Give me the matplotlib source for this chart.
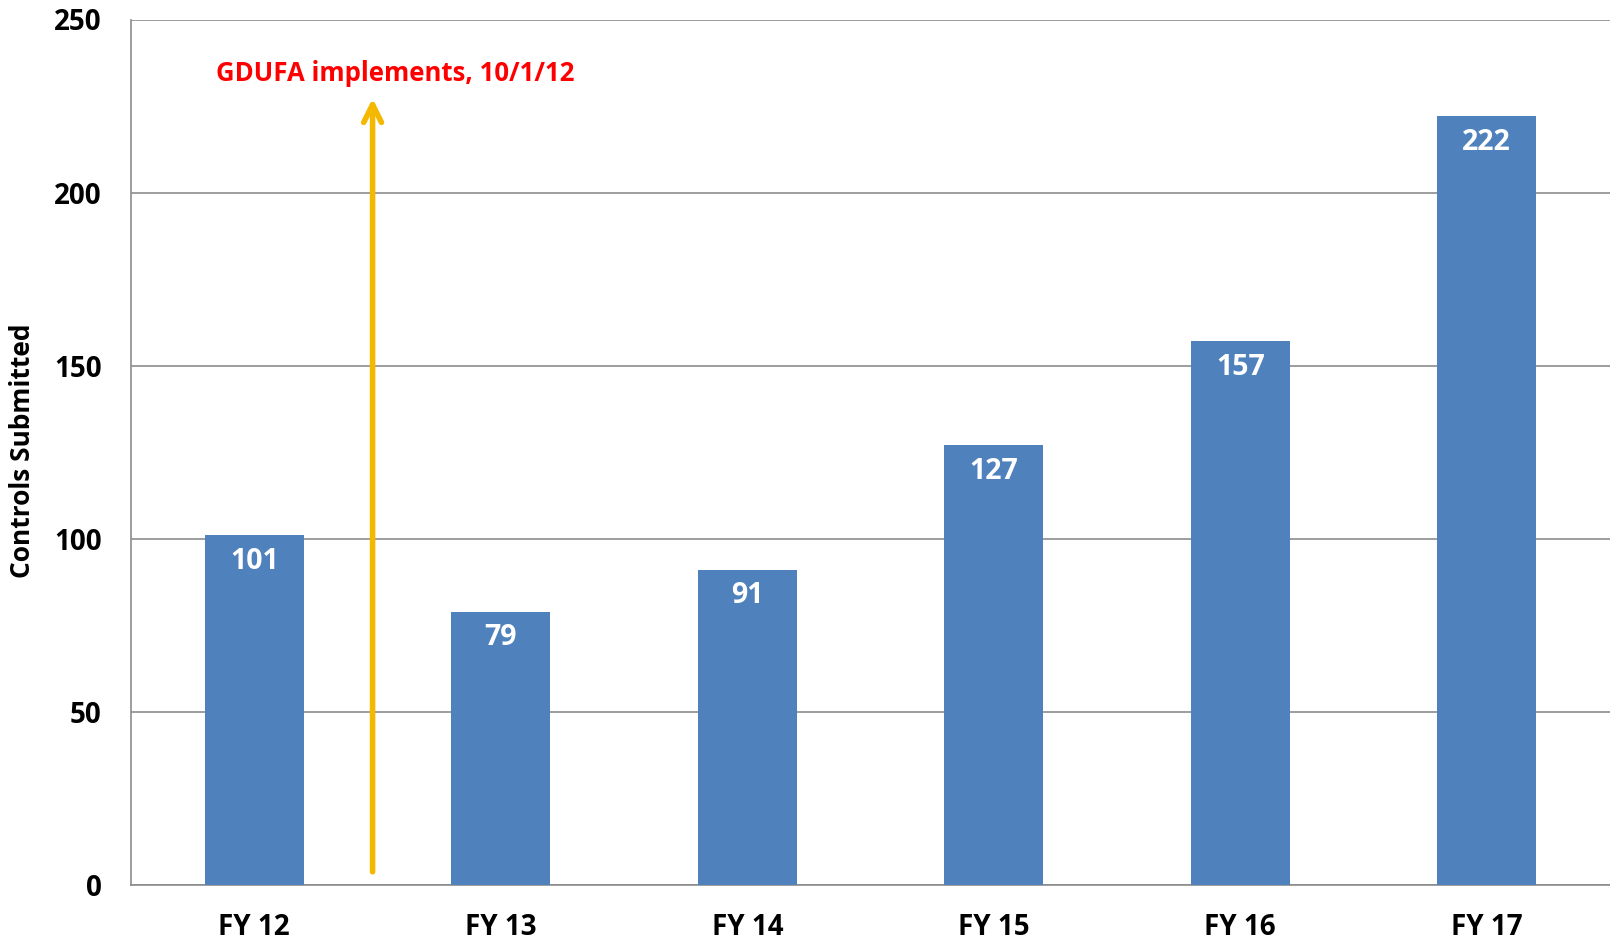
import numpy as np
import matplotlib.pyplot as plt

# data
years = ["FY 12", "FY 13", "FY 14", "FY 15", "FY 16", "FY 17"]
controls = [101, 79, 91, 127, 157, 222]
yticks = [0, 50, 100, 150, 200, 250]

plt.rcParams['font.family'] = ['Open Sans', 'DejaVu Sans']

fig = plt.figure(figsize=(16.1, 9.39), dpi=100)
ax = fig.add_axes([131 / 1610, 1 - 885 / 939, 1 - 131 / 1610, (885 - 19.5) / 939])

x = np.arange(len(years))
ax.bar(x, controls, width=0.4, color="#4F81BD", zorder=3)

for xi, v in zip(x, controls):
    ax.text(xi, v - 7.5, str(v), ha="center", va="center", color="white",
            fontsize=20.5, fontweight="bold", zorder=4)

# GDUFA arrow
ax.annotate("", xy=(0.48, 228), xytext=(0.48, 3),
            arrowprops=dict(arrowstyle="->", color="#F5B800", lw=4,
                            mutation_scale=32), zorder=5)
ax.text(0.57, 234.5, "GDUFA implements, 10/1/12", color="#FF0000",
        fontsize=18.5, fontweight="bold", ha="center", va="center")

ax.set_xlim(-0.5, 5.5)
ax.set_ylim(0, 250)
ax.set_yticks(yticks)
ax.set_xticks(x)
ax.set_xticklabels(years)
ax.yaxis.grid(True, color="#8C8C8C", lw=1.2, zorder=0)
ax.tick_params(axis="both", length=0, labelsize=20)
for lbl in ax.get_xticklabels() + ax.get_yticklabels():
    lbl.set_fontweight("bold")
ax.tick_params(axis="x", pad=20)
ax.tick_params(axis="y", pad=21)
for s in ["top", "right"]:
    ax.spines[s].set_visible(False)
for s in ["left", "bottom"]:
    ax.spines[s].set_color("#8C8C8C")
    ax.spines[s].set_linewidth(1.2)

fig.text(23 / 1610, 0.52, "Controls Submitted", rotation=90, fontsize=19,
         fontweight="bold", ha="center", va="center")

fig.savefig("out.png", dpi=100)
